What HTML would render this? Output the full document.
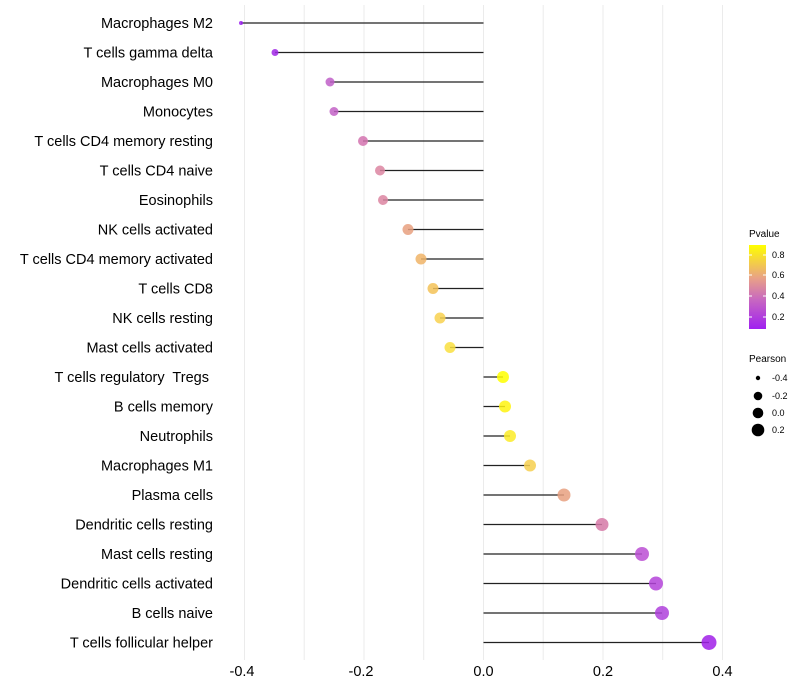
<!DOCTYPE html>
<html><head><meta charset="utf-8"><style>body{margin:0;background:#fff}svg{display:block;font-family:"Liberation Sans",sans-serif}</style></head>
<body>
<svg width="800" height="700" viewBox="0 0 800 700">
<defs><linearGradient id="g" x1="0" y1="1" x2="0" y2="0">
<stop offset="0" stop-color="#a020f0"/><stop offset="0.35" stop-color="#c868c0"/><stop offset="0.6" stop-color="#e8a088"/><stop offset="1" stop-color="#ffff00"/></linearGradient></defs>
<g stroke="#ebebeb" stroke-width="1">
<line x1="244.5" y1="5" x2="244.5" y2="660"/><line x1="304.2" y1="5" x2="304.2" y2="660"/><line x1="364" y1="5" x2="364" y2="660"/><line x1="423.7" y1="5" x2="423.7" y2="660"/><line x1="483.5" y1="5" x2="483.5" y2="660"/><line x1="543.2" y1="5" x2="543.2" y2="660"/><line x1="603" y1="5" x2="603" y2="660"/><line x1="662.7" y1="5" x2="662.7" y2="660"/><line x1="722.5" y1="5" x2="722.5" y2="660"/>
</g>
<g font-size="14.5" fill="#000" text-anchor="middle">
<text x="242" y="676">-0.4</text><text x="361" y="676">-0.2</text><text x="483.5" y="676">0.0</text><text x="603" y="676">0.2</text><text x="722.5" y="676">0.4</text>
</g>
<text x="749" y="237" font-size="10">Pvalue</text>
<rect x="749" y="245" width="17" height="84" fill="url(#g)"/>
<g stroke="#fff" stroke-width="1"><line x1="749" y1="255" x2="752" y2="255"/><line x1="763" y1="255" x2="766" y2="255"/><line x1="749" y1="275" x2="752" y2="275"/><line x1="763" y1="275" x2="766" y2="275"/><line x1="749" y1="296" x2="752" y2="296"/><line x1="763" y1="296" x2="766" y2="296"/><line x1="749" y1="317" x2="752" y2="317"/><line x1="763" y1="317" x2="766" y2="317"/></g>
<g font-size="9"><text x="772" y="258">0.8</text><text x="772" y="278">0.6</text><text x="772" y="299">0.4</text><text x="772" y="320">0.2</text></g>
<text x="749" y="362" font-size="10">Pearson</text>
<circle cx="758" cy="378" r="2.2" fill="#000"/><circle cx="758" cy="396" r="4.3" fill="#000"/><circle cx="758" cy="413" r="5.3" fill="#000"/><circle cx="758" cy="430" r="6.3" fill="#000"/>
<g font-size="9"><text x="772" y="381">-0.4</text><text x="772" y="399">-0.2</text><text x="772" y="416">0.0</text><text x="772" y="433">0.2</text></g>
<g font-size="14.5" text-anchor="end" fill="#000">
<text x="213" y="28">Macrophages M2</text>
<text x="213" y="57.5">T cells gamma delta</text>
<text x="213" y="87">Macrophages M0</text>
<text x="213" y="116.5">Monocytes</text>
<text x="213" y="146">T cells CD4 memory resting</text>
<text x="213" y="175.5">T cells CD4 naive</text>
<text x="213" y="205">Eosinophils</text>
<text x="213" y="234.5">NK cells activated</text>
<text x="213" y="264">T cells CD4 memory activated</text>
<text x="213" y="293.5">T cells CD8</text>
<text x="213" y="323">NK cells resting</text>
<text x="213" y="352.5">Mast cells activated</text>
<text x="213" y="382" xml:space="preserve">T cells regulatory  Tregs </text>
<text x="213" y="411.5">B cells memory</text>
<text x="213" y="441">Neutrophils</text>
<text x="213" y="470.5">Macrophages M1</text>
<text x="213" y="500">Plasma cells</text>
<text x="213" y="529.5">Dendritic cells resting</text>
<text x="213" y="559">Mast cells resting</text>
<text x="213" y="588.5">Dendritic cells activated</text>
<text x="213" y="618">B cells naive</text>
<text x="213" y="647.5">T cells follicular helper</text>
</g>
<g stroke="#222" stroke-width="1.2">
<line x1="483.5" y1="23" x2="241" y2="23"/><line x1="483.5" y1="52.5" x2="275" y2="52.5"/><line x1="483.5" y1="82" x2="330" y2="82"/><line x1="483.5" y1="111.5" x2="334" y2="111.5"/><line x1="483.5" y1="141" x2="363" y2="141"/><line x1="483.5" y1="170.5" x2="380" y2="170.5"/><line x1="483.5" y1="200" x2="383" y2="200"/><line x1="483.5" y1="229.5" x2="408" y2="229.5"/><line x1="483.5" y1="259" x2="421" y2="259"/><line x1="483.5" y1="288.5" x2="433" y2="288.5"/><line x1="483.5" y1="318" x2="440" y2="318"/><line x1="483.5" y1="347.5" x2="450" y2="347.5"/><line x1="483.5" y1="377" x2="503" y2="377"/><line x1="483.5" y1="406.5" x2="505" y2="406.5"/><line x1="483.5" y1="436" x2="510" y2="436"/><line x1="483.5" y1="465.5" x2="530" y2="465.5"/><line x1="483.5" y1="495" x2="564" y2="495"/><line x1="483.5" y1="524.5" x2="602" y2="524.5"/><line x1="483.5" y1="554" x2="642" y2="554"/><line x1="483.5" y1="583.5" x2="656" y2="583.5"/><line x1="483.5" y1="613" x2="662" y2="613"/><line x1="483.5" y1="642.5" x2="709" y2="642.5"/>
</g>
<g opacity="0.85">
<circle cx="241" cy="23" r="2" fill="#9b20ee"/>
<circle cx="275" cy="52.5" r="3.5" fill="#a028e6"/>
<circle cx="330" cy="82" r="4.5" fill="#c060c8"/>
<circle cx="334" cy="111.5" r="4.5" fill="#c262c6"/>
<circle cx="363" cy="141" r="5" fill="#d474b0"/>
<circle cx="380" cy="170.5" r="5" fill="#dc86a2"/>
<circle cx="383" cy="200" r="5" fill="#dc86a2"/>
<circle cx="408" cy="229.5" r="5.5" fill="#e8a080"/>
<circle cx="421" cy="259" r="5.5" fill="#f0b468"/>
<circle cx="433" cy="288.5" r="5.5" fill="#f4c258"/>
<circle cx="440" cy="318" r="5.5" fill="#f8d250"/>
<circle cx="450" cy="347.5" r="5.5" fill="#fae040"/>
<circle cx="503" cy="377" r="6" fill="#ffff00"/>
<circle cx="505" cy="406.5" r="6" fill="#fff410"/>
<circle cx="510" cy="436" r="6" fill="#fcec28"/>
<circle cx="530" cy="465.5" r="6" fill="#f6d050"/>
<circle cx="564" cy="495" r="6.5" fill="#e8a080"/>
<circle cx="602" cy="524.5" r="6.5" fill="#d67aa8"/>
<circle cx="642" cy="554" r="7" fill="#bc50d4"/>
<circle cx="656" cy="583.5" r="7" fill="#b444da"/>
<circle cx="662" cy="613" r="7" fill="#b040dc"/>
<circle cx="709" cy="642.5" r="7.5" fill="#a020e8"/>
</g>
</svg>
</body></html>
